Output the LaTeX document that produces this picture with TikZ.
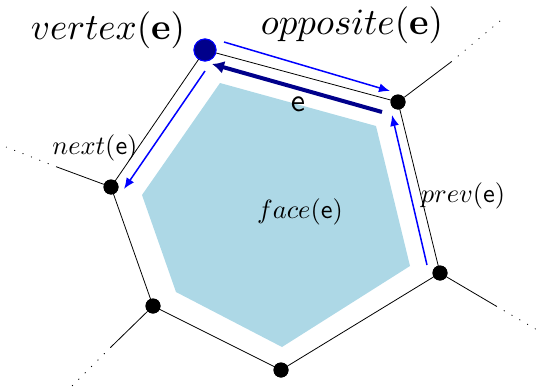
\documentclass[tikz,border=0pt]{standalone}
\usepackage{graphicx}
\usepackage{amsmath}
\usetikzlibrary{arrows.meta}
\definecolor{facecol}{RGB}{173,216,230}
\definecolor{navyc}{RGB}{0,0,139}
\tikzset{
  vdot/.style={circle,fill=black,inner sep=0pt,minimum size=15pt},
  bigv/.style={circle,fill=navyc,draw=blue,line width=1pt,inner sep=0pt,minimum size=22pt},
  edgeline/.style={black,line width=0.8pt},
  stub/.style={black,line width=0.8pt},
  dotl/.style={black,line width=0.8pt,dash pattern=on 1pt off 8pt},
  harr/.style={blue,line width=1.5pt,-{Latex[length=11pt,width=9pt]}},
  earr/.style={navyc,line width=4pt,-{Latex[length=12pt,width=13pt]}},
  lbl/.style={inner sep=0pt},
}
\begin{document}
\begin{tikzpicture}[x=1pt,y=-1pt]
\useasboundingbox (0,0) rectangle (539,391);
% face
\fill[facecol] (220,83) -- (376,126) -- (410,266) -- (282,347) -- (176,292) -- (142,195) -- cycle;
% vertices
\node[bigv] (v1) at (205,50) {};
\node[vdot] (v2) at (398,102) {};
\node[vdot] (v3) at (440,273) {};
\node[vdot] (v4) at (281,370) {};
\node[vdot] (v5) at (153,306) {};
\node[vdot] (v6) at (111,187) {};
% outer stubs
\coordinate (s2) at (451,62);
\coordinate (d2) at (500,21);
\coordinate (s3) at (496,306);
\coordinate (d3) at (539,331);
\coordinate (s5) at (111,347);
\coordinate (d5) at (67,391);
\coordinate (s6) at (57,167);
\coordinate (d6) at (6,147);
\draw[edgeline] (v1.center) -- (v2.center) -- (v3.center) -- (v4.center) -- (v5.center) -- (v6.center) -- (v1.center);
\draw[stub] (v2) -- (s2);
\draw[dotl] (s2) -- (d2);
\draw[stub] (v3) -- (s3);
\draw[dotl] (s3) -- (d3);
\draw[stub] (v5) -- (s5);
\draw[dotl] (s5) -- (d5);
\draw[stub] (v6) -- (s6);
\draw[dotl] (s6) -- (d6);
% redraw vertices on top
\node[bigv] at (v1) {};
\foreach \v in {v2,v3,v4,v5,v6} \node[vdot] at (\v) {};
% half-edge arrows
\coordinate (a1s) at (224,42);
\coordinate (a1e) at (390,91);
\coordinate (a2s) at (427,265);
\coordinate (a2e) at (392,115);
\coordinate (a3s) at (205,71);
\coordinate (a3e) at (124,189);
\coordinate (es) at (382,112);
\coordinate (ee) at (212,64);
\draw[harr] (a1s) -- (a1e);
\draw[harr] (a2s) -- (a2e);
\draw[harr] (a3s) -- (a3e);
\draw[earr] (es) -- (ee);
% labels
\node[lbl] (lv) at (108,30) {\scalebox{3.7}{$vertex(\mathbf{e})$}};
\node[lbl] (lo) at (352,25) {\scalebox{3.7}{$opposite(\mathbf{e})$}};
\node[lbl] (le) at (298,104) {\scalebox{3.2}{$\mathsf{e}$}};
\node[lbl] (ln) at (95,148) {\scalebox{2.64}{$next(\mathsf{e})$}};
\node[lbl] (lp) at (463,196) {\scalebox{2.64}{$prev(\mathsf{e})$}};
\node[lbl] (lf) at (300,212) {\scalebox{2.64}{$face(\mathsf{e})$}};
\end{tikzpicture}
\end{document}
